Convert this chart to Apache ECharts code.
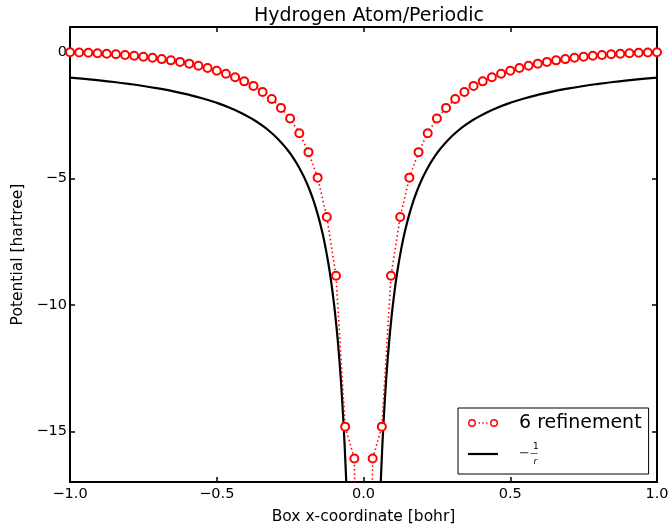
<!DOCTYPE html>
<html>
<head>
<meta charset="utf-8">
<script src="https://cdn.jsdelivr.net/npm/echarts@6/dist/echarts.min.js"></script>
<style>
html,body{margin:0;padding:0;background:#fff;}
#chart{width:670px;height:528px;}
</style>
</head>
<body>
<div id="chart"></div>
<script>
// x grid of the refinement points (bohr)
const xPoints = [
  -1, -0.96875, -0.9375, -0.90625, -0.875, -0.84375, -0.8125, -0.78125,
  -0.75, -0.71875, -0.6875, -0.65625, -0.625, -0.59375, -0.5625, -0.53125,
  -0.5, -0.46875, -0.4375, -0.40625, -0.375, -0.34375, -0.3125, -0.28125,
  -0.25, -0.21875, -0.1875, -0.15625, -0.125, -0.09375, -0.0625, -0.03125,
  0,
  0.03125, 0.0625, 0.09375, 0.125, 0.15625, 0.1875, 0.21875, 0.25,
  0.28125, 0.3125, 0.34375, 0.375, 0.40625, 0.4375, 0.46875, 0.5,
  0.53125, 0.5625, 0.59375, 0.625, 0.65625, 0.6875, 0.71875, 0.75,
  0.78125, 0.8125, 0.84375, 0.875, 0.90625, 0.9375, 0.96875, 1
];
// potential values of the "6 refinement" series (hartree)
const refinementValues = [
  0.00, -0.01, -0.02, -0.04, -0.06, -0.08, -0.11, -0.14,
  -0.18, -0.22, -0.27, -0.32, -0.38, -0.45, -0.53, -0.62,
  -0.73, -0.85, -0.99, -1.15, -1.33, -1.57, -1.85, -2.20,
  -2.62, -3.20, -3.95, -4.96, -6.52, -8.84, -14.81, -16.07,
  -40,
  -16.07, -14.81, -8.84, -6.52, -4.96, -3.95, -3.20, -2.62,
  -2.20, -1.85, -1.57, -1.33, -1.15, -0.99, -0.85, -0.73,
  -0.62, -0.53, -0.45, -0.38, -0.32, -0.27, -0.22, -0.18,
  -0.14, -0.11, -0.08, -0.06, -0.04, -0.02, -0.01, 0.00
];
// -1/r reference curve: positions along |x| and the values
const coulombAbsX = [1, 0.95, 0.9, 0.85, 0.8, 0.75, 0.7, 0.65, 0.6, 0.55, 0.5, 0.46, 0.42, 0.38, 0.35, 0.32, 0.29, 0.26, 0.24, 0.22, 0.2, 0.185, 0.17, 0.155, 0.14, 0.13, 0.12, 0.11, 0.1, 0.095, 0.09, 0.085, 0.08, 0.075, 0.07, 0.066, 0.062, 0.058, 0.054, 0.05];
const coulombY = [-1, -1.053, -1.111, -1.176, -1.25, -1.333, -1.429, -1.538, -1.667, -1.818, -2, -2.174, -2.381, -2.632, -2.857, -3.125, -3.448, -3.846, -4.167, -4.545, -5, -5.405, -5.882, -6.452, -7.143, -7.692, -8.333, -9.091, -10, -10.53, -11.11, -11.76, -12.5, -13.33, -14.29, -15.15, -16.13, -17.24, -18.52, -20];
// axis ticks
const xTicks = [-1, -0.5, 0, 0.5, 1];
const yTicks = [-15, -10, -5, 0];
const seriesNames = ['6 refinement', '\u22121/r'];

const FONT = 'DejaVu Sans';
const fmtMinus = s => String(s).replace('-', '\u2212');

const chart = echarts.init(document.getElementById('chart'), null, {renderer: 'canvas'});

const leftBranch = coulombAbsX.map((v, i) => [-v, coulombY[i]]);
const rightBranch = coulombAbsX.map((v, i) => [v, coulombY[i]]).reverse();

const axisLineStyle = {color: '#000', width: 2};
const tickStyle = {color: '#000', width: 1.5};

// legend icons: marker-dots-marker, and a plain line
const ringIcon = 'path://M0,4A4,4 0 1,1 8,4A4,4 0 1,1 0,4Z M1.5,4A2.5,2.5 0 1,0 6.5,4A2.5,2.5 0 1,0 1.5,4Z ' +
  'M10.6,3.3L12,3.3L12,4.7L10.6,4.7Z M14.3,3.3L15.7,3.3L15.7,4.7L14.3,4.7Z M18,3.3L19.4,3.3L19.4,4.7L18,4.7Z ' +
  'M22,4A4,4 0 1,1 30,4A4,4 0 1,1 22,4Z M23.5,4A2.5,2.5 0 1,0 28.5,4A2.5,2.5 0 1,0 23.5,4Z';
const lineIcon = 'path://M0,0L30,0L30,2.2L0,2.2Z';

const option = {
  backgroundColor: '#fff',
  animation: false,
  title: {
    text: 'Hydrogen Atom/Periodic',
    left: 364, top: 2, textAlign: 'center',
    textStyle: {fontFamily: FONT, fontSize: 19, fontWeight: 'normal', color: '#000'}
  },
  grid: {left: 70, right: 13, top: 27, bottom: 46, containLabel: false, outerBoundsMode: 'none'},
  legend: {
    orient: 'vertical',
    left: 458, top: 408,
    data: [
      {name: seriesNames[0], icon: ringIcon, itemStyle: {color: '#ff0000', borderWidth: 0}},
      {name: seriesNames[1], icon: lineIcon, itemStyle: {color: '#000', borderWidth: 0}}
    ],
    itemWidth: 30, itemHeight: 12, itemGap: 8,
    padding: [4, 7, 8, 10],
    backgroundColor: '#fff',
    borderColor: '#000', borderWidth: 1, borderRadius: 0,
    textStyle: {
      fontFamily: FONT, fontSize: 19, color: '#000', padding: [0, 0, 0, 16], lineHeight: 22,
      rich: {
        n: {fontFamily: FONT, fontSize: 9, lineHeight: 8, padding: [0, 0, 0, 14], color: '#000'},
        m: {fontFamily: FONT, fontSize: 13, lineHeight: 7, color: '#333'},
        b: {fontFamily: FONT, fontSize: 8, lineHeight: 7, color: '#000'},
        d: {fontFamily: FONT, fontSize: 9, lineHeight: 8, fontStyle: 'italic', padding: [0, 0, 0, 14.5], color: '#000'}
      }
    },
    formatter: function (name) {
      if (name === seriesNames[1]) return '{n|1}\n{m|\u2212}{b|\u2014}\n{d|r}';
      return name;
    }
  },
  xAxis: [{
    type: 'value', min: -1, max: 1, interval: 0.5, position: 'bottom',
    name: 'Box x-coordinate [bohr]', nameLocation: 'middle', nameGap: 27,
    nameTextStyle: {fontFamily: FONT, fontSize: 15.5, color: '#000'},
    axisLine: {show: true, onZero: false, lineStyle: axisLineStyle},
    axisTick: {show: true, inside: true, length: 5, lineStyle: tickStyle, customValues: xTicks},
    axisLabel: {show: true, margin: 5, fontFamily: FONT, fontSize: 14.5, color: '#000',
      customValues: xTicks,
      formatter: v => fmtMinus(v.toFixed(1))},
    splitLine: {show: false}
  }, {
    type: 'value', min: -1, max: 1, interval: 0.5, position: 'top',
    axisLine: {show: true, onZero: false, lineStyle: axisLineStyle},
    axisTick: {show: true, inside: true, length: 5, lineStyle: tickStyle, customValues: xTicks},
    axisLabel: {show: false},
    splitLine: {show: false}
  }],
  yAxis: [{
    type: 'value', min: -17, max: 1, position: 'left',
    name: 'Potential [hartree]', nameLocation: 'middle', nameGap: 37,
    nameTextStyle: {fontFamily: FONT, fontSize: 15.5, color: '#000'},
    axisLine: {show: true, onZero: false, lineStyle: axisLineStyle},
    axisTick: {show: true, inside: true, length: 5, lineStyle: tickStyle, customValues: yTicks},
    axisLabel: {show: true, margin: 3, fontFamily: FONT, fontSize: 14.5, color: '#000',
      customValues: yTicks,
      formatter: v => fmtMinus(v)},
    splitLine: {show: false}
  }, {
    type: 'value', min: -17, max: 1, position: 'right',
    axisLine: {show: true, onZero: false, lineStyle: axisLineStyle},
    axisTick: {show: true, inside: true, length: 5, lineStyle: tickStyle, customValues: yTicks},
    axisLabel: {show: false},
    splitLine: {show: false}
  }],
  series: [{
    name: seriesNames[1], type: 'line', xAxisIndex: 0, yAxisIndex: 0,
    data: leftBranch,
    smooth: true, showSymbol: false, symbol: 'none',
    clip: true, z: 2,
    lineStyle: {color: '#000', width: 2.2},
    itemStyle: {color: '#000'}
  }, {
    name: seriesNames[1], type: 'line', xAxisIndex: 0, yAxisIndex: 0,
    data: rightBranch,
    smooth: true, showSymbol: false, symbol: 'none',
    clip: true, z: 2,
    lineStyle: {color: '#000', width: 2.2},
    itemStyle: {color: '#000'}
  }, {
    name: seriesNames[0], type: 'line', xAxisIndex: 0, yAxisIndex: 0,
    data: xPoints.map((v, i) => [v, refinementValues[i]]),
    symbol: 'emptyCircle', symbolSize: 8, showAllSymbol: true,
    clip: true, z: 3,
    lineStyle: {color: '#ff0000', width: 1.6, type: [1.5, 2.8]},
    itemStyle: {color: '#ff0000', borderColor: '#ff0000', borderWidth: 2.5}
  }]
};
chart.setOption(option);
</script>
</body>
</html>
